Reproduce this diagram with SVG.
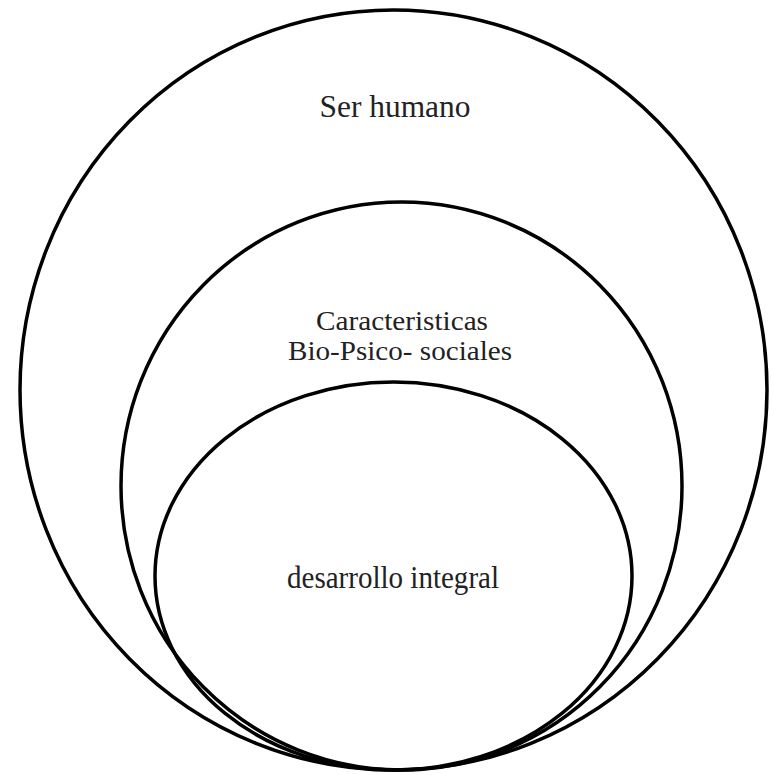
<svg xmlns="http://www.w3.org/2000/svg" width="773" height="775" viewBox="0 0 773 775">
<style>
.ring{fill:none;stroke:#000;stroke-width:3.5}
.lbl{font-family:"Liberation Serif","Times New Roman",serif;font-size:31px;fill:#222;text-anchor:middle}
.sm{font-size:27px}
</style>
<rect width="773" height="775" fill="#fff"/>
<g id="ser-humano">
<ellipse class="ring" cx="393.5" cy="390" rx="373.5" ry="380"/>
<text class="lbl" x="395" y="117" textLength="151" lengthAdjust="spacingAndGlyphs">Ser humano</text>
</g>
<g id="caracteristicas">
<ellipse class="ring" cx="401.5" cy="486" rx="280.5" ry="284"/>
<text class="lbl sm" x="402" y="330" textLength="172" lengthAdjust="spacingAndGlyphs">Caracteristicas</text>
<text class="lbl sm" x="400" y="360" textLength="224" lengthAdjust="spacingAndGlyphs">Bio-Psico- sociales</text>
</g>
<g id="desarrollo">
<ellipse class="ring" cx="393.5" cy="576" rx="238.5" ry="194"/>
<text class="lbl" x="393" y="588" textLength="212" lengthAdjust="spacingAndGlyphs">desarrollo integral</text>
</g>
<g id="connectors"/>
</svg>
